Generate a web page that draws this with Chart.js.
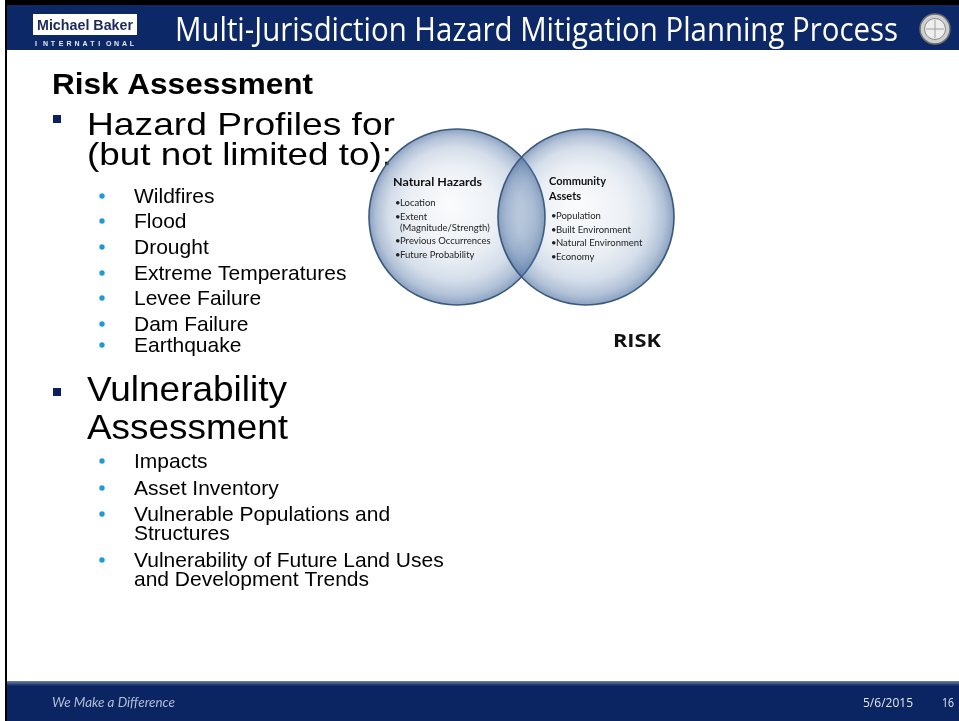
<!DOCTYPE html>
<html>
<head>
<meta charset="utf-8">
<script src="https://cdn.jsdelivr.net/npm/chart.js@4.4.1/dist/chart.umd.min.js"></script>
<style>
  html, body { margin: 0; padding: 0; background: #fff; }
  #wrap { width: 959px; height: 721px; }
</style>
</head>
<body>
<div id="wrap"><canvas id="slide" width="959" height="721"></canvas></div>
<script>
// slide text
const slideTitle = 'Multi-Jurisdiction Hazard Mitigation Planning Process';
const sectionTitle = 'Risk Assessment';
const hazardHeading = ['Hazard Profiles for', '(but not limited to):'];
const hazardList = ['Wildfires', 'Flood', 'Drought', 'Extreme Temperatures', 'Levee Failure', 'Dam Failure', 'Earthquake'];
const vulnHeading = ['Vulnerability', 'Assessment'];
const vulnList = [['Impacts'], ['Asset Inventory'], ['Vulnerable Populations and', 'Structures'], ['Vulnerability of Future Land Uses', 'and Development Trends']];
const footerText = ['We Make a Difference', '5/6/2015', '16'];

// venn sets
const vennNames = [['Natural Hazards'], ['Community', 'Assets']];
const vennX = [0, 1];
const vennY = [0, 0];
const vennItems = [
    [['Location'], ['Extent', '(Magnitude/Strength)'], ['Previous Occurrences'], ['Future Probability']],
    [['Population'], ['Built Environment'], ['Natural Environment'], ['Economy']]
];
const vennResult = 'RISK';

const PX = 129;   // pixels per venn unit
const R = 88;     // circle radius, px

// draw text, optionally squeezed/stretched to a width
function put(ctx, s, x, y, font, color, w) {
    ctx.save();
    ctx.font = font;
    ctx.fillStyle = color;
    ctx.textAlign = 'left';
    ctx.textBaseline = 'alphabetic';
    ctx.translate(x, y);
    if (w) {
        const m = ctx.measureText(s).width;
        ctx.scale(w / m, 1);
    }
    ctx.fillText(s, 0, 0);
    ctx.restore();
}

const slidePlugin = {
    id: 'slide',
    beforeDraw: (chart) => {
        const ctx = chart.ctx;
        ctx.save();
        ctx.fillStyle = '#fff';
        ctx.fillRect(0, 0, 959, 721);
        // frame
        ctx.fillStyle = '#000';
        ctx.fillRect(5, 0, 954, 5);
        ctx.fillRect(5, 0, 2, 721);
        // header
        ctx.fillStyle = '#0c2866';
        ctx.fillRect(7, 5, 952, 45);
        // footer
        const fg = ctx.createLinearGradient(0, 681, 0, 686);
        fg.addColorStop(0, '#6d84ab');
        fg.addColorStop(1, '#0b2462');
        ctx.fillStyle = fg;
        ctx.fillRect(7, 681, 952, 40);

        // logo
        ctx.fillStyle = '#fff';
        ctx.fillRect(33, 14, 104, 21);
        put(ctx, 'Michael Baker', 37, 30, 'bold 15px "Liberation Sans Narrow", "Liberation Sans"', '#1c2a5c', 96);
        ctx.save();
        ctx.font = 'bold 7px "Liberation Sans"';
        ctx.fillStyle = '#e8ecf4';
        'INTERNATIONAL'.split('').forEach((ch, i) => ctx.fillText(ch, 35 + i * 7.9, 46));
        ctx.restore();

        // seal
        ctx.beginPath();
        ctx.arc(935, 29, 15, 0, Math.PI * 2);
        ctx.fillStyle = '#cfcfcf';
        ctx.fill();
        ctx.lineWidth = 1.5;
        ctx.strokeStyle = '#6d6d6d';
        ctx.stroke();
        ctx.beginPath();
        ctx.arc(935, 29, 10.5, 0, Math.PI * 2);
        ctx.fillStyle = '#eeeeee';
        ctx.fill();
        ctx.lineWidth = 1;
        ctx.strokeStyle = '#8a8a8a';
        ctx.stroke();
        ctx.beginPath();
        ctx.moveTo(926, 29); ctx.lineTo(944, 29);
        ctx.moveTo(935, 20); ctx.lineTo(935, 38);
        ctx.strokeStyle = '#a0a0a0';
        ctx.stroke();

        put(ctx, slideTitle, 175, 41, '33px "Open Sans"', '#ffffff', 723);

        // left column
        put(ctx, sectionTitle, 52, 94, 'bold 29px "Liberation Sans"', '#000', 261);
        ctx.fillStyle = '#0d1f5c';
        ctx.fillRect(53, 115, 8, 8);
        ctx.fillRect(53, 388, 8, 8);
        put(ctx, hazardHeading[0], 87, 135, '32px "Liberation Sans"', '#000', 308);
        put(ctx, hazardHeading[1], 87, 165, '32px "Liberation Sans"', '#000', 305);
        put(ctx, vulnHeading[0], 87, 401, '35px "Liberation Sans"', '#000', 200);
        put(ctx, vulnHeading[1], 87, 439, '35px "Liberation Sans"', '#000', 201);

        const dot = (y) => {
            ctx.beginPath();
            ctx.arc(102, y, 2.7, 0, Math.PI * 2);
            ctx.fillStyle = '#1f9ad9';
            ctx.fill();
        };
        const hazY = [203, 228, 254, 280, 305, 331, 352];
        hazardList.forEach((s, i) => {
            dot(hazY[i] - 7);
            put(ctx, s, 134, hazY[i], '21px "Liberation Sans"', '#000');
        });
        const vulnY = [468, 495, 521, 567];
        vulnList.forEach((lines, i) => {
            dot(vulnY[i] - 7);
            lines.forEach((s, j) => put(ctx, s, 134, vulnY[i] + j * 19, '21px "Liberation Sans"', '#000'));
        });

        // footer text
        put(ctx, footerText[0], 52, 707, 'italic 13px Lato', '#b3bfd6', 123);
        put(ctx, footerText[1], 863, 707, '12px "Open Sans"', '#e3e8f0', 50);
        put(ctx, footerText[2], 942, 707, '12px "Open Sans"', '#e3e8f0', 12);
        ctx.restore();
    },
    afterDatasetsDraw: (chart) => {
        const ctx = chart.ctx;
        const pts = chart.getDatasetMeta(0).data;
        const itemFont = '9.5px Lato';
        // left set
        const a = pts[0];
        put(ctx, vennNames[0][0], a.x - 64, a.y - 31, 'bold 11px Lato', '#111', 89);
        let y = a.y - 11;
        vennItems[0].forEach((lines) => {
            lines.forEach((s, j) => {
                if (j === 0) put(ctx, '\u2022', a.x - 62, y, itemFont, '#222');
                put(ctx, s, a.x - 57, y, itemFont, '#222');
                y += j < lines.length - 1 ? 11 : 13.5;
            });
        });
        // right set
        const b = pts[1];
        vennNames[1].forEach((s, j) => put(ctx, s, b.x - 37, b.y - 32 + j * 15, 'bold 11px Lato', '#111'));
        y = b.y + 2;
        vennItems[1].forEach((lines) => {
            put(ctx, '\u2022', b.x - 35, y, itemFont, '#222');
            put(ctx, lines[0], b.x - 30, y, itemFont, '#222');
            y += 13.5;
        });
        put(ctx, vennResult, 613, 347, 'bold 17px "Open Sans"', '#111', 48);
    }
};

function sphereFill(c) {
    const chart = c.chart;
    if (!chart.chartArea || c.type !== 'data') return 'rgba(95,130,175,0.2)';
    const px = chart.scales.x.getPixelForValue(c.raw.x);
    const py = chart.scales.y.getPixelForValue(c.raw.y);
    const g = chart.ctx.createRadialGradient(px - 8, py - 12, 2, px, py, R);
    g.addColorStop(0, 'rgba(95,130,175,0.03)');
    g.addColorStop(0.5, 'rgba(95,130,175,0.12)');
    g.addColorStop(0.75, 'rgba(90,125,172,0.26)');
    g.addColorStop(0.9, 'rgba(85,120,168,0.45)');
    g.addColorStop(1, 'rgba(70,105,152,0.62)');
    return g;
}

const vennData = vennX.map((x, i) => ({ x: x, y: vennY[i] }));

new Chart(document.getElementById('slide'), {
    type: 'scatter',
    data: {
        datasets: [{
            data: vennData,
            pointRadius: R,
            pointHoverRadius: R,
            borderWidth: 1.6,
            borderColor: '#3a5880',
            backgroundColor: sphereFill
        }]
    },
    options: {
        responsive: false,
        animation: false,
        events: [],
        layout: { padding: 0, autoPadding: false },
        plugins: {
            legend: { display: false },
            tooltip: { enabled: false }
        },
        scales: {
            x: { display: false, min: -457 / PX, max: (959 - 457) / PX },
            y: { display: false, min: -(721 - 217) / PX, max: 217 / PX }
        }
    },
    plugins: [slidePlugin]
});
</script>
</body>
</html>
